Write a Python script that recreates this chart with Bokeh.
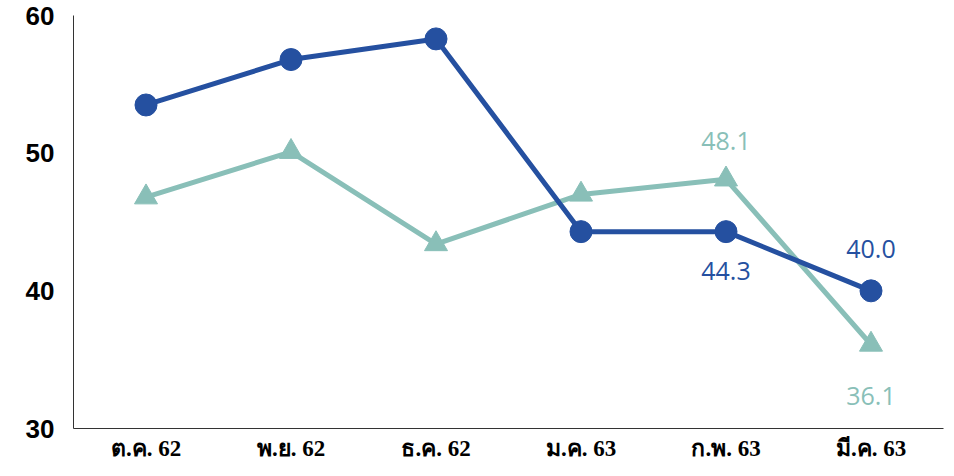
from bokeh.plotting import figure
from bokeh.models import ColumnDataSource, Range1d, FactorRange, FixedTicker
from bokeh.core.properties import value
from bokeh.embed import file_html
from bokeh.resources import INLINE

months = ["ต.ค. 62", "พ.ย. 62", "ธ.ค. 62", "ม.ค. 63", "ก.พ. 63", "มี.ค. 63"]
series_a = [53.5, 56.8, 58.3, 44.3, 44.3, 40.0]   # dark blue, circles
series_b = [46.8, 50.1, 43.4, 47.0, 48.1, 36.1]   # teal, triangles
y_ticks = [30, 40, 50, 60]

# data labels shown in the reference: category index and placement
labels_a_idx = [4, 5]
labels_a_pos = ["below", "above"]
labels_b_idx = [4, 5]
labels_b_pos = ["above", "below"]

BLUE = "#2550A0"
TEAL = "#89BFB8"

p = figure(x_range=FactorRange(*months), y_range=Range1d(30, 60),
           width=946, height=468, output_backend="svg", toolbar_location=None,
           min_border_left=73, min_border_right=3, min_border_top=15, min_border_bottom=40)
p.outline_line_color = None
p.grid.grid_line_color = None
p.background_fill_color = "white"
p.border_fill_color = "white"

p.yaxis.ticker = FixedTicker(ticks=y_ticks)
p.yaxis.major_tick_line_color = None
p.yaxis.minor_tick_line_color = None
p.yaxis.axis_line_color = "#333333"
p.yaxis.axis_line_width = 1
p.yaxis.major_label_text_font = "Liberation Sans"
p.yaxis.major_label_text_font_style = "bold"
p.yaxis.major_label_text_font_size = "26px"
p.yaxis.major_label_text_color = "black"
p.yaxis.major_label_standoff = 13

p.xaxis.major_tick_line_color = None
p.xaxis.minor_tick_line_color = None
p.xaxis.axis_line_color = "#333333"
p.xaxis.axis_line_width = 1
p.xaxis.major_label_text_font = "Liberation Sans Narrow"
p.xaxis.major_label_text_font_style = "bold"
p.xaxis.major_label_text_font_size = "23px"
p.xaxis.major_label_text_color = "black"
p.xaxis.major_label_standoff = 1

src_a = ColumnDataSource(dict(x=months, y=series_a))
src_b = ColumnDataSource(dict(x=months, y=series_b))

p.line("x", "y", source=src_b, line_color=TEAL, line_width=5)
p.scatter("x", "y", source=src_b, marker="triangle", size=23, fill_color=TEAL, line_color=TEAL)
p.line("x", "y", source=src_a, line_color=BLUE, line_width=5)
p.scatter("x", "y", source=src_a, marker="circle", size=22, fill_color=BLUE, line_color=BLUE)

def label_source(idx, pos, vals, up, down):
    xs = [months[i] for i in idx]
    ys = [vals[i] for i in idx]
    txt = [f"{vals[i]:.1f}" for i in idx]
    offs = [up if ps == "above" else down for ps in pos]
    return ColumnDataSource(dict(x=xs, y=ys, text=txt, off=offs))

la = label_source(labels_a_idx, labels_a_pos, series_a, -42, 39)
lb = label_source(labels_b_idx, labels_b_pos, series_b, -38, 51)
for src, col in ((la, BLUE), (lb, TEAL)):
    p.text("x", "y", text="text", source=src, y_offset="off",
           text_align="center", text_baseline="middle",
           text_font=value("Open Sans"), text_font_size="25px", text_color=col)

open("out.html", "w").write(file_html(p, INLINE))
